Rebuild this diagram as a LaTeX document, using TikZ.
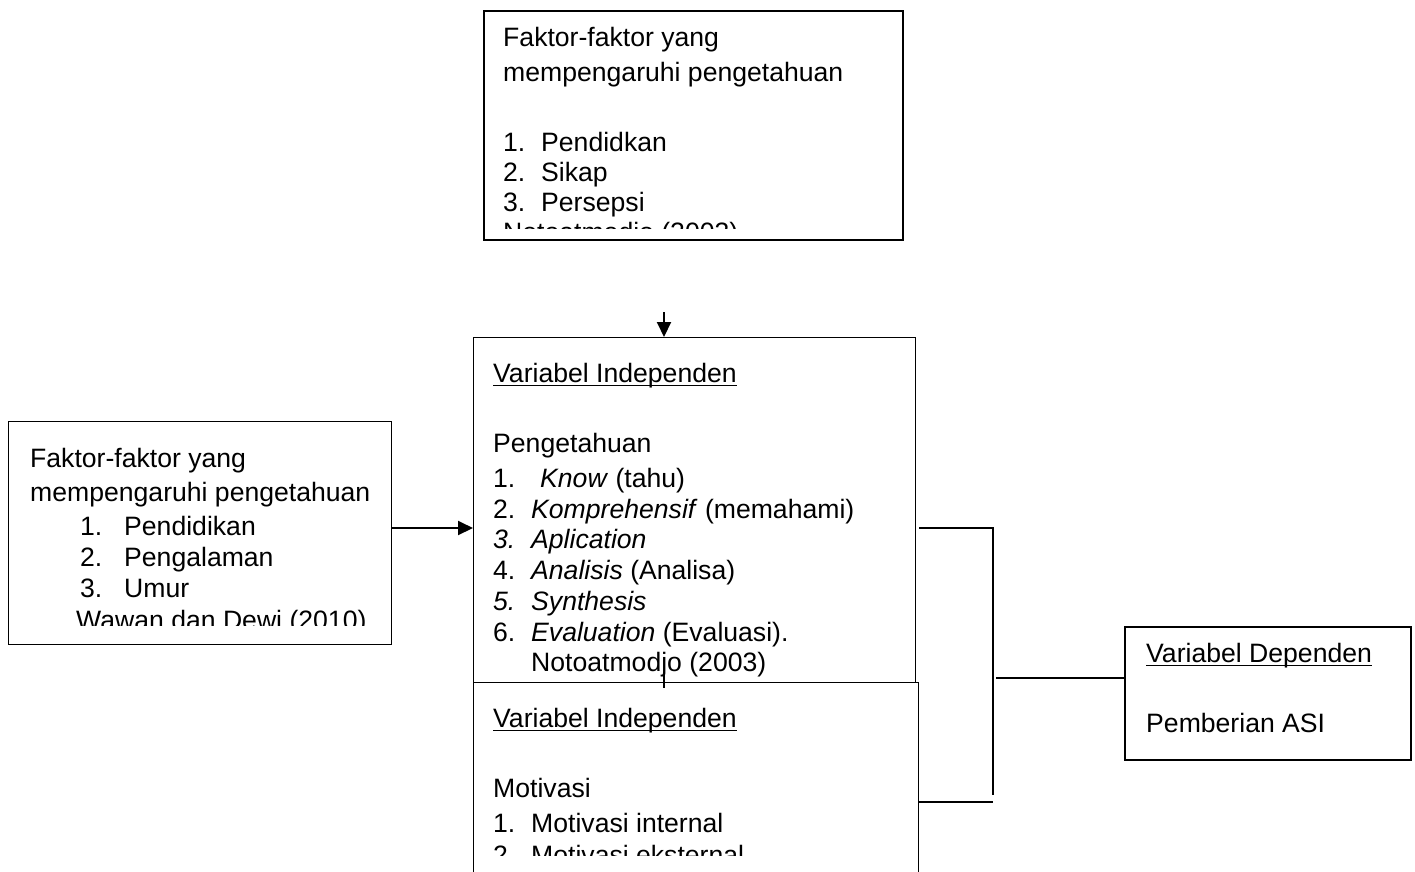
\documentclass[tikz,border=0pt]{standalone}
\usepackage{fontspec}
\setmainfont{Liberation Sans}
\usetikzlibrary{arrows.meta}
\begin{document}
\begin{tikzpicture}[x=1pt,y=-1pt,
  txt/.style={anchor=base west,inner sep=0pt,font=\fontsize{26.6}{30}\selectfont},
  boxthick/.style={draw=black,line width=2pt,fill=white,anchor=north west,inner sep=0pt},
  boxthin/.style={draw=black,line width=1.3pt,fill=white,anchor=north west,inner sep=0pt},
  conn/.style={draw=black,line width=2pt},
  arr/.style={conn,-{Triangle[length=15pt,width=14pt]}},
  ul/.style={draw=black,line width=1.6pt}]
\useasboundingbox (0,0) rectangle (1415,871);
\clip (0,0) rectangle (1415,871);

% ---------- top box ----------
\node[boxthick,minimum width=419pt,minimum height=229pt] (top) at (483,10) {};
\begin{scope}
\clip (483,10) rectangle (902,228);
\node[txt] (t1) at (503,46) {Faktor-faktor yang};
\node[txt] (t2) at (503,81) {mempengaruhi pengetahuan};
\node[txt] (t3n) at (503,151) {1.};
\node[txt] (t3) at (541,151) {Pendidkan};
\node[txt] (t4n) at (503,181) {2.};
\node[txt] (t4) at (541,181) {Sikap};
\node[txt] (t5n) at (503,211) {3.};
\node[txt] (t5) at (541,211) {Persepsi};
\node[txt] (t6) at (503,241) {Notoatmodjo (2003)};
\end{scope}

% ---------- left box ----------
\node[boxthin,minimum width=383pt,minimum height=223pt] (left) at (8,421) {};
\begin{scope}
\clip (8,421) rectangle (391,625);
\node[txt] (l1) at (30,467) {Faktor-faktor yang};
\node[txt] (l2) at (30,501) {mempengaruhi pengetahuan};
\node[txt] (l3n) at (80,535) {1.};
\node[txt] (l3) at (124,535) {Pendidikan};
\node[txt] (l4n) at (80,566) {2.};
\node[txt] (l4) at (124,566) {Pengalaman};
\node[txt] (l5n) at (80,597) {3.};
\node[txt] (l5) at (124,597) {Umur};
\node[txt] (l6) at (76,629) {Wawan dan Dewi (2010)};
\end{scope}

% ---------- middle box ----------
\node[boxthin,minimum width=442pt,minimum height=347pt] (mid) at (473,337) {};
\node[txt] (m0) at (493,382) {Variabel Independen};
\draw[ul] ([yshift=-3.5pt]m0.base west) -- ([yshift=-3.5pt]m0.base east);
\node[txt] (m1) at (493,452) {Pengetahuan};
\node[txt] (m2n) at (493,487) {1.};
\node[txt] (m2) at (540,487) {\textit{Know} (tahu)};
\node[txt] (m3n) at (493,518) {2.};
\node[txt] (m3) at (531,518) {\textit{Komprehensif} (memahami)};
\node[txt] (m4n) at (493,548) {\textit{3.}};
\node[txt] (m4) at (531,548) {\textit{Aplication}};
\node[txt] (m5n) at (493,579) {4.};
\node[txt] (m5) at (531,579) {\textit{Analisis} (Analisa)};
\node[txt] (m6n) at (493,610) {\textit{5.}};
\node[txt] (m6) at (531,610) {\textit{Synthesis}};
\node[txt] (m7n) at (493,641) {6.};
\node[txt] (m7) at (531,641) {\textit{Evaluation} (Evaluasi).};
\node[txt] (m8) at (531,671) {Notoatmodjo (2003)};

% ---------- bottom box ----------
\node[boxthin,minimum width=445pt,minimum height=230pt] (bot) at (473,682) {};
\begin{scope}
\clip (473,682) rectangle (918,855);
\node[txt] (b0) at (493,727) {Variabel Independen};
\draw[ul] ([yshift=-3.5pt]b0.base west) -- ([yshift=-3.5pt]b0.base east);
\node[txt] (b1) at (493,797) {Motivasi};
\node[txt] (b2n) at (493,832) {1.};
\node[txt] (b2) at (531,832) {Motivasi internal};
\node[txt] (b3n) at (493,864) {2.};
\node[txt] (b3) at (531,864) {Motivasi eksternal};
\end{scope}

% ---------- right box ----------
\node[boxthick,minimum width=286pt,minimum height=133pt] (right) at (1124,626) {};
\node[txt] (r0) at (1146,662) {Variabel Dependen};
\draw[ul] ([yshift=-3.5pt]r0.base west) -- ([yshift=-3.5pt]r0.base east);
\node[txt] (r1) at (1146,732) {Pemberian ASI};

% ---------- connectors ----------
\coordinate (ta) at (664,312);
\draw[arr] (ta) -- (ta |- mid.north);
\coordinate (la) at (391,528);
\draw[arr] (la) -- (la -| mid.west);
\coordinate (mb1) at (664,672);
\coordinate (mb2) at (664,688);
\draw[conn] (mb1) -- (mb2);
\coordinate (j1) at (993,528);
\coordinate (j2) at (993,795);
\coordinate (j3) at (993,802);
\coordinate (j4) at (996,678);
\draw[conn] (919,528) coordinate (c1) -- (j1) -- (j2);
\draw[conn] (919,802) coordinate (c2) -- (j3);
\draw[conn] (j4) -- (j4 -| right.west);
\end{tikzpicture}
\end{document}
